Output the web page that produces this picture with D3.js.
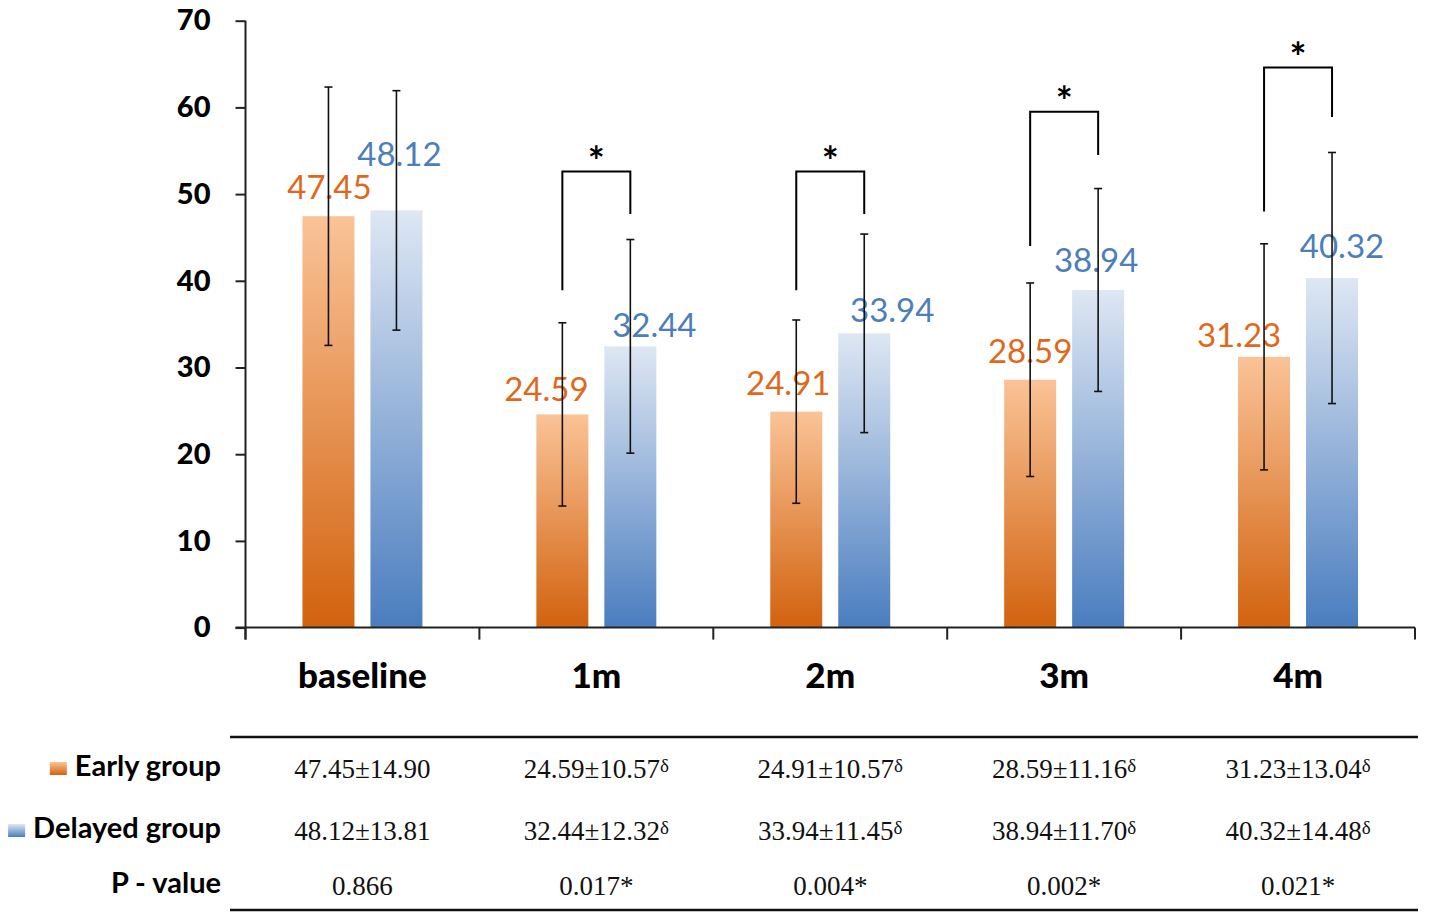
<!DOCTYPE html>
<html>
<head>
<meta charset="utf-8">
<script src="https://cdn.jsdelivr.net/npm/d3@7"></script>
<style>
  body { margin: 0; background: #fff; }
  text { font-family: Lato, "Open Sans", sans-serif; }
</style>
</head>
<body>
<div id="chart"></div>
<script>
const categories = ["baseline", "1m", "2m", "3m", "4m"];
const groups = ["Early group", "Delayed group"];
const earlyMean = [47.45, 24.59, 24.91, 28.59, 31.23];
const earlySD = [14.90, 10.57, 10.57, 11.16, 13.04];
const delayedMean = [48.12, 32.44, 33.94, 38.94, 40.32];
const delayedSD = [13.81, 12.32, 11.45, 11.70, 14.48];
const pValues = ["0.866", "0.017*", "0.004*", "0.002*", "0.021*"];
const deltaMark = [false, true, true, true, true];
const yTicks = [0, 10, 20, 30, 40, 50, 60, 70];

// significance brackets in y units (null = none)
const bracketTop = [null, 52.6, 52.6, 59.5, 64.6];
const bracketLeft = [null, 38.9, 38.9, 44.0, 48.0];
const bracketRight = [null, 47.7, 47.7, 54.5, 58.9];

// hand placed value labels in the original: pixel nudges from bar top
const earlyShift = [[1, -17], [-16, -13], [-8, -17], [0, -17], [-25, -10]];
const delayedShift = [[3, -44], [24, -9], [28, -11], [-2, -18], [10, -20]];

const width = 1430, height = 918;
const orangeText = "#E0681A", blueText = "#4C7EBC";

const svg = d3.select("#chart").append("svg")
    .attr("width", width)
    .attr("height", height);

const defs = svg.append("defs");
function grad(id, top, bottom) {
    let g = defs.append("linearGradient").attr("id", id)
        .attr("x1", 0).attr("y1", 0).attr("x2", 0).attr("y2", 1);
    g.append("stop").attr("offset", "0%").attr("stop-color", top);
    g.append("stop").attr("offset", "100%").attr("stop-color", bottom);
}
grad("gEarly", "#FAC397", "#D2620E");
grad("gDelayed", "#DEE7F3", "#4A7DBF");
const fills = { "Early group": "url(#gEarly)", "Delayed group": "url(#gDelayed)" };

const x = d3.scaleBand()
    .domain(categories)
    .range([245.5, 1415]);

const xs = d3.scaleBand()
    .domain(groups)
    .range([0, x.bandwidth()])
    .paddingInner(0.235)
    .paddingOuter(0.838);

const y = d3.scaleLinear()
    .domain([0, 70])
    .range([627.6, 20.7]);

let rows = [];
categories.forEach((c, i) => {
    rows.push({ cat: c, i: i, group: groups[0], mean: earlyMean[i], sd: earlySD[i], shift: earlyShift[i], color: orangeText });
    rows.push({ cat: c, i: i, group: groups[1], mean: delayedMean[i], sd: delayedSD[i], shift: delayedShift[i], color: blueText });
});
const cx = d => x(d.cat) + xs(d.group) + xs.bandwidth() / 2;

// bars
svg.selectAll(".bar")
    .data(rows)
    .join("rect")
    .attr("class", "bar")
    .attr("x", d => x(d.cat) + xs(d.group))
    .attr("width", xs.bandwidth())
    .attr("y", d => y(d.mean))
    .attr("height", d => y(0) - y(d.mean))
    .attr("fill", d => fills[d.group]);

// value labels
svg.selectAll(".val")
    .data(rows)
    .join("text")
    .attr("class", "val")
    .attr("x", d => cx(d) + d.shift[0])
    .attr("y", d => y(d.mean) + d.shift[1])
    .attr("text-anchor", "middle")
    .attr("font-size", 33)
    .attr("fill", d => d.color)
    .text(d => d.mean.toFixed(2));

// error bars
let err = svg.selectAll(".err")
    .data(rows)
    .join("g")
    .attr("class", "err")
    .attr("stroke", "#111")
    .attr("stroke-width", 1.6);
err.append("line")
    .attr("x1", cx).attr("x2", cx)
    .attr("y1", d => y(d.mean + d.sd))
    .attr("y2", d => y(d.mean - d.sd));
err.append("line")
    .attr("x1", d => cx(d) - 4).attr("x2", d => cx(d) + 4)
    .attr("y1", d => y(d.mean + d.sd)).attr("y2", d => y(d.mean + d.sd));
err.append("line")
    .attr("x1", d => cx(d) - 4).attr("x2", d => cx(d) + 4)
    .attr("y1", d => y(d.mean - d.sd)).attr("y2", d => y(d.mean - d.sd));

// significance brackets
let brackets = categories.map((c, i) => ({ cat: c, top: bracketTop[i], left: bracketLeft[i], right: bracketRight[i] }))
    .filter(d => d.top !== null);
const xl = d => x(d.cat) + xs(groups[0]) + xs.bandwidth() / 2;
const xr = d => x(d.cat) + xs(groups[1]) + xs.bandwidth() / 2;
svg.selectAll(".bracket")
    .data(brackets)
    .join("path")
    .attr("class", "bracket")
    .attr("fill", "none")
    .attr("stroke", "#000")
    .attr("stroke-width", 2)
    .attr("d", d => `M${xl(d)},${y(d.left)}V${y(d.top)}H${xr(d)}V${y(d.right)}`);
svg.selectAll(".star")
    .data(brackets)
    .join("text")
    .attr("class", "star")
    .attr("x", d => (xl(d) + xr(d)) / 2)
    .attr("y", d => y(d.top) + 4)
    .attr("text-anchor", "middle")
    .attr("font-size", 40)
    .attr("font-weight", "bold")
    .text("*");

// y axis
let yAxis = svg.append("g")
    .attr("transform", `translate(${x.range()[0]},0)`)
    .call(d3.axisLeft(y).tickValues(yTicks).tickSize(10).tickPadding(25));
yAxis.select(".domain").attr("d", `M0,${y(70)}H0V${y(0) + 12}`).attr("stroke", "#222").attr("stroke-width", 2);
yAxis.selectAll(".tick line").attr("stroke", "#222").attr("stroke-width", 2);
yAxis.selectAll(".tick text")
    .attr("font-size", 29)
    .attr("font-weight", 900)
    .attr("fill", "#000")
    .style("font-family", "Lato");

// x axis: line, boundary ticks, category labels
let xAxis = svg.append("g").attr("transform", `translate(0,${y(0)})`);
xAxis.append("line")
    .attr("x1", x.range()[0] - 10).attr("x2", x.range()[1])
    .attr("stroke", "#222").attr("stroke-width", 2);
xAxis.selectAll(".bt")
    .data(categories.map(c => x(c)).concat([x.range()[1]]))
    .join("line")
    .attr("class", "bt")
    .attr("x1", d => d).attr("x2", d => d)
    .attr("y1", 0).attr("y2", 12)
    .attr("stroke", "#222").attr("stroke-width", 2);
xAxis.selectAll(".cat")
    .data(categories)
    .join("text")
    .attr("class", "cat")
    .attr("x", d => x(d) + x.bandwidth() / 2)
    .attr("y", 60)
    .attr("text-anchor", "middle")
    .attr("font-size", 35)
    .attr("font-weight", 900)
    .text(d => d);

// data table under the chart
const tableTop = 737, tableBottom = 910;
svg.append("line").attr("x1", 230).attr("x2", 1418).attr("y1", tableTop).attr("y2", tableTop)
    .attr("stroke", "#111").attr("stroke-width", 2.5);
svg.append("line").attr("x1", 230).attr("x2", 1418).attr("y1", tableBottom).attr("y2", tableBottom)
    .attr("stroke", "#111").attr("stroke-width", 2.5);

const tableRows = [
    { label: groups[0], y: 778, cells: earlyMean.map((m, i) => ({ t: m.toFixed(2) + "±" + earlySD[i].toFixed(2), d: deltaMark[i] })), icon: "url(#gEarly)" },
    { label: groups[1], y: 840, cells: delayedMean.map((m, i) => ({ t: m.toFixed(2) + "±" + delayedSD[i].toFixed(2), d: deltaMark[i] })), icon: "url(#gDelayed)" },
    { label: "P - value", y: 895, cells: pValues.map(p => ({ t: p, d: false })), icon: null }
];

tableRows.forEach(r => {
    let lab = svg.append("text")
        .attr("x", 221)
        .attr("y", r.y - 2)
        .attr("text-anchor", "end")
        .attr("font-size", 29)
        .attr("font-weight", "bold")
        .text(r.label);
    if (r.icon) {
        let w = lab.node().getComputedTextLength();
        svg.append("rect")
            .attr("x", 221 - w - 25)
            .attr("y", r.y - 16)
            .attr("width", 17)
            .attr("height", 13)
            .attr("fill", r.icon);
    }
    let cells = svg.selectAll(null)
        .data(r.cells.map((c, i) => ({ ...c, cat: categories[i] })))
        .join("text")
        .attr("x", d => x(d.cat) + x.bandwidth() / 2)
        .attr("y", r.y)
        .attr("text-anchor", "middle")
        .attr("font-size", 27)
        .attr("fill", "#111")
        .style("font-family", "'Liberation Serif', 'Times New Roman', serif");
    cells.append("tspan").text(d => d.t);
    cells.filter(d => d.d).append("tspan")
        .attr("font-size", 19)
        .attr("dy", -6)
        .text("δ");
});
</script>
</body>
</html>
